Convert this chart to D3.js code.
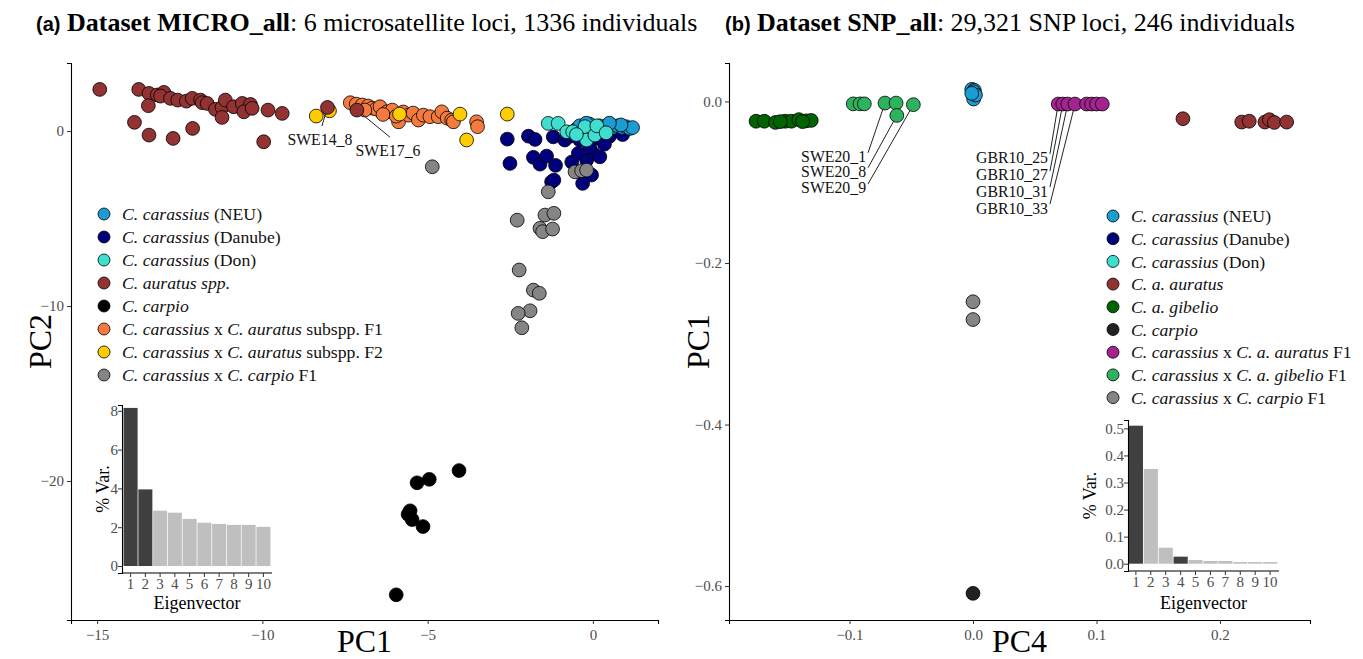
<!DOCTYPE html>
<html>
<head>
<meta charset="utf-8">
<script src="https://cdn.jsdelivr.net/npm/d3@7"></script>
<style>
body { margin: 0; background: #fff; }
text { font-family: "Liberation Serif", "Times New Roman", serif; }
</style>
</head>
<body>
<div id="chart"></div>
<script>
//width and height
var chart_width = 1363;
var chart_height = 659;

// ---- data: panel (a) MICRO_all, PC1 x PC2 ----
var micro_colors = ['#1b9cd2', '#00007f', '#3fdfd0', '#923232', '#000000', '#f47a3e', '#ffcc00', '#858585'];
var micro_legend = [
    [['C. carassius', 1], [' (NEU)', 0]],
    [['C. carassius', 1], [' (Danube)', 0]],
    [['C. carassius', 1], [' (Don)', 0]],
    [['C. auratus spp.', 1]],
    [['C. carpio', 1]],
    [['C. carassius', 1], [' x ', 0], ['C. auratus', 1], [' subspp. F1', 0]],
    [['C. carassius', 1], [' x ', 0], ['C. auratus', 1], [' subspp. F2', 0]],
    [['C. carassius', 1], [' x ', 0], ['C. carpio', 1], [' F1', 0]]
];
var micro_auratus = [[-14.92, 2.38], [-13.74, 2.38], [-13.43, 2.15], [-13.18, 2.06], [-12.98, 2.21], [-13.08, 2.0],
    [-12.78, 1.87], [-12.56, 1.77], [-12.3, 1.71], [-12.12, 1.87], [-11.87, 1.77], [-11.82, 1.62], [-11.67, 1.58],
    [-11.42, 1.24], [-11.22, 1.35], [-11.12, 1.77], [-10.87, 1.39], [-10.61, 1.58], [-10.36, 1.52], [-10.56, 1.1],
    [-10.31, 1.3], [-11.22, 0.78], [-9.83, 1.2], [-9.4, 1.01], [-13.45, 1.45], [-13.87, 0.5], [-13.43, -0.23],
    [-12.7, -0.42], [-12.11, 0.15], [-9.96, -0.61]];
var micro_hybF1 = [[-7.34, 1.62], [-7.16, 1.54], [-6.98, 1.49], [-6.8, 1.43], [-6.68, 1.31], [-6.56, 1.26],
    [-6.44, 1.39], [-6.23, 1.1], [-6.07, 1.2], [-5.88, 0.53], [-5.74, 1.09], [-5.58, 0.91], [-5.44, 1.03],
    [-5.28, 0.63], [-5.13, 0.91], [-4.93, 0.82], [-4.68, 0.82], [-4.57, 1.1], [-4.41, 0.74], [-4.27, 0.63],
    [-4.22, 0.53], [-3.52, 0.53], [-3.49, 0.25], [-6.9, 1.2], [-6.35, 0.95], [-5.95, 0.85]];
var micro_hybF2 = [[-8.37, 0.86], [-7.97, 1.16], [-5.85, 0.97], [-4.02, 0.97], [-3.82, -0.51], [-2.59, 0.97]];
var micro_danube = [[-2.59, -0.46], [-2.51, -1.85], [-1.95, -0.29], [-1.75, -0.48], [-1.8, -1.5], [-1.6, -1.89],
    [-1.4, -1.43], [-1.13, -1.96], [-1.25, -2.9], [-1.18, -2.8], [-1.2, -0.33], [-0.85, -0.51], [-0.64, -1.77],
    [-0.44, -1.27], [-0.19, -1.66], [0.01, -1.27], [0.21, -1.47], [-0.04, -2.51], [-0.31, -2.99], [0.61, -0.04],
    [-0.7, -0.3], [-0.4, -0.5], [-0.2, -0.2], [0.1, -0.4], [0.3, -0.1], [0.5, -0.3], [0.8, 0.0], [0.9, -0.2],
    [-0.5, 0.1], [0.3, 0.2], [-0.1, -0.9], [0.35, -0.75]];
var micro_neu = [[-0.4, 0.3], [-0.1, 0.4], [0.2, 0.3], [0.45, 0.35], [0.6, 0.2], [0.75, 0.3], [0.9, 0.2], [1.0, 0.25],
    [1.12, 0.15], [1.2, 0.2], [0.3, 0.1], [0.0, 0.2], [-0.2, 0.45], [0.85, 0.35], [0.5, 0.45]];
var micro_don = [[-1.35, 0.44], [-1.05, 0.44], [-0.79, -0.04], [-0.61, -0.04], [-0.24, 0.25], [-0.19, -0.51],
    [0.06, -0.23], [0.12, 0.3], [-0.5, -0.2], [0.4, -0.1]];
var micro_carpioF1 = [[-4.86, -2.04], [-0.54, -2.33], [-0.34, -2.27], [-0.19, -2.23], [-1.35, -3.47], [-2.29, -5.09],
    [-1.45, -4.8], [-1.18, -4.7], [-1.6, -5.56], [-1.52, -5.75], [-1.22, -5.6], [-2.23, -7.94], [-1.8, -9.09],
    [-1.62, -9.27], [-1.9, -10.27], [-2.26, -10.42], [-2.15, -11.24]];
var micro_carpio = [[-4.05, -19.4], [-5.32, -20.1], [-4.95, -19.9], [-5.53, -21.7], [-5.59, -21.9], [-5.47, -22.2],
    [-5.14, -22.6], [-5.95, -26.5]];
// labelled individuals: name, point x, point y, label x, label y
var micro_labels = [['SWE14_8', -8.03, 1.35, -8.26, -0.46], ['SWE17_6', -7.14, 1.2, -6.2, -1.09]];
var micro_var = [8.15, 3.95, 2.85, 2.75, 2.43, 2.23, 2.17, 2.12, 2.12, 2.02];
var micro_var_pcs = [1, 2];

// ---- data: panel (b) SNP_all, PC4 x PC1 ----
var snp_colors = ['#1b9cd2', '#00007f', '#3fdfd0', '#923232', '#006400', '#222222', '#a3238f', '#2db35d', '#858585'];
var snp_legend = [
    [['C. carassius', 1], [' (NEU)', 0]],
    [['C. carassius', 1], [' (Danube)', 0]],
    [['C. carassius', 1], [' (Don)', 0]],
    [['C. a. auratus', 1]],
    [['C. a. gibelio', 1]],
    [['C. carpio', 1]],
    [['C. carassius', 1], [' x ', 0], ['C. a. auratus', 1], [' F1', 0]],
    [['C. carassius', 1], [' x ', 0], ['C. a. gibelio', 1], [' F1', 0]],
    [['C. carassius', 1], [' x ', 0], ['C. carpio', 1], [' F1', 0]]
];
var snp_danube = [[0.0, 0.0135]];
var snp_don = [[0.001, 0.012]];
var snp_neu = [[-0.001, 0.015], [0.001, 0.014], [0.0005, 0.012], [0.0005, 0.003], [0.002, 0.008], [-0.001, 0.01]];
var snp_gibelio = [[-0.1757, -0.0245], [-0.169, -0.0245], [-0.16, -0.026], [-0.152, -0.0245], [-0.147, -0.0245],
    [-0.141, -0.0225], [-0.135, -0.024], [-0.131, -0.0235], [-0.156, -0.025], [-0.138, -0.025]];
var snp_hyb_gibelio = [[-0.097, -0.003], [-0.0915, -0.003], [-0.088, -0.003], [-0.0713, -0.002], [-0.0623, -0.002],
    [-0.0617, -0.0173], [-0.0483, -0.004]];
var snp_hyb_auratus = [[0.069, -0.0032], [0.0727, -0.0032], [0.0767, -0.0032], [0.0826, -0.0032], [0.092, -0.0032],
    [0.096, -0.0032], [0.1, -0.0032], [0.1047, -0.0032]];
var snp_auratus = [[0.17, -0.0214], [0.2176, -0.0255], [0.2237, -0.0245], [0.2364, -0.0255], [0.24, -0.0226],
    [0.244, -0.026], [0.254, -0.0255]];
var snp_carpio = [[0.0, -0.609]];
var snp_carpioF1 = [[0.0, -0.248], [0.0, -0.27]];
var snp_labels = [['SWE20_1', -0.0713, -0.002, -0.0866, -0.0685], ['SWE20_8', -0.0617, -0.0173, -0.0866, -0.087],
    ['SWE20_9', -0.0483, -0.004, -0.0866, -0.107], ['GBR10_25', 0.069, -0.0032, 0.0607, -0.0698],
    ['GBR10_27', 0.0727, -0.0032, 0.0607, -0.091], ['GBR10_31', 0.0767, -0.0032, 0.0607, -0.111],
    ['GBR10_33', 0.0826, -0.0032, 0.0607, -0.132]];
var snp_var = [0.51, 0.35, 0.059, 0.026, 0.0135, 0.01, 0.01, 0.006, 0.006, 0.006];
var snp_var_pcs = [1, 4];

var eigen_labels = [1, 2, 3, 4, 5, 6, 7, 8, 9, 10];

var serif = '"Liberation Serif", "Times New Roman", serif';

var svg = d3.select("#chart")
            .append("svg")
            .attr("width", chart_width)
            .attr("height", chart_height)
            .style("font-family", serif);

// titles
var titles = [
    {x: 36, sub: '(a)', name: 'Dataset MICRO_all', rest: ': 6 microsatellite loci, 1336 individuals'},
    {x: 725, sub: '(b)', name: 'Dataset SNP_all', rest: ': 29,321 SNP loci, 246 individuals'}
];
titles.forEach(function(t) {
    var tt = svg.append('text').attr('x', t.x).attr('y', 31).attr('font-size', 26).attr('fill', '#000');
    tt.append('tspan').text(t.sub).style('font-family', '"Liberation Sans", Arial, sans-serif')
        .attr('font-weight', 'bold').attr('font-size', 20);
    tt.append('tspan').text(' ' + t.name).attr('font-weight', 'bold');
    tt.append('tspan').text(t.rest);
});

function style_axis(a, size) {
    a.attr('font-family', serif);
    a.select('.domain').attr('stroke', '#000').attr('stroke-width', 1.1);
    a.selectAll('.tick line').attr('stroke', '#333');
    a.selectAll('.tick text').attr('fill', '#4d4d4d').attr('font-size', size).style('font-family', serif);
}

// scatter panel
function draw_panel(cfg) {
    var x = d3.scaleLinear().domain(cfg.x_domain).range([cfg.left, cfg.right]);
    var y = d3.scaleLinear().domain(cfg.y_domain).range([cfg.bottom, cfg.top]);
    var g = svg.append('g');

    var x_axis = g.append('g').attr('transform', 'translate(0,' + cfg.bottom + ')')
        .call(d3.axisBottom(x).tickValues(cfg.x_ticks).tickFormat(d3.format(cfg.fmt_x)).tickSizeOuter(0).tickSize(4));
    var y_axis = g.append('g').attr('transform', 'translate(' + cfg.left + ',0)')
        .call(d3.axisLeft(y).tickValues(cfg.y_ticks).tickFormat(d3.format(cfg.fmt_y)).tickSizeOuter(0).tickSize(4));
    style_axis(x_axis, 15);
    style_axis(y_axis, 15);
    x_axis.selectAll('.tick text').attr('dy', '0.85em');

    g.append('text').attr('x', (cfg.left + cfg.right) / 2).attr('y', 652).attr('text-anchor', 'middle')
        .attr('font-size', 32).text(cfg.x_title);
    g.append('text').attr('transform', 'translate(' + (cfg.left - 20) + ',' + ((cfg.top + cfg.bottom) / 2) + ') rotate(-90)')
        .attr('text-anchor', 'middle').attr('font-size', 32).text(cfg.y_title);

    // points
    cfg.layers.forEach(function(layer) {
        g.append('g').selectAll('circle')
            .data(layer.data)
            .enter()
            .append('circle')
            .attr('cx', function(d) { return x(d[0]); })
            .attr('cy', function(d) { return y(d[1]); })
            .attr('r', 6.9)
            .attr('fill', layer.color)
            .attr('stroke', '#000')
            .attr('stroke-width', 0.8);
    });

    // labels with segments
    cfg.labels.forEach(function(l) {
        var px = x(l[1]), py = y(l[2]), lx = x(l[3]), ly = y(l[4]);
        var sx, sy;
        if (cfg.label_anchor == 'middle') {
            sx = lx + 2; sy = ly - 13;
        } else {
            sx = lx + 2; sy = ly - 4;
        }
        var dx = px - sx, dy = py - sy, len = Math.sqrt(dx * dx + dy * dy);
        g.append('line').attr('x1', sx).attr('y1', sy)
            .attr('x2', px - dx / len * 6).attr('y2', py - dy / len * 6)
            .attr('stroke', '#222').attr('stroke-width', 1);
        g.append('text').attr('x', lx).attr('y', ly).attr('dy', '0.35em')
            .attr('text-anchor', cfg.label_anchor).attr('font-size', 15.8).attr('fill', '#111').text(l[0]);
    });
    if (cfg.on_top) {
        g.append('g').selectAll('circle').data(cfg.on_top.data).enter().append('circle')
            .attr('cx', function(d) { return x(d[0]); })
            .attr('cy', function(d) { return y(d[1]); })
            .attr('r', 6.9).attr('fill', cfg.on_top.color).attr('stroke', '#000').attr('stroke-width', 0.8);
    }

    // legend
    var lg = g.append('g');
    cfg.legend.forEach(function(parts, i) {
        var ry = cfg.leg_y + i * cfg.leg_step;
        lg.append('circle').attr('cx', cfg.leg_x).attr('cy', ry).attr('r', 6)
            .attr('fill', cfg.leg_colors[i]).attr('stroke', '#000').attr('stroke-width', 0.8);
        var t = lg.append('text').attr('x', cfg.leg_x + 18).attr('y', ry).attr('dy', '0.35em')
            .attr('font-size', 17.7).attr('fill', '#111');
        parts.forEach(function(p) {
            t.append('tspan').text(p[0]).attr('font-style', p[1] ? 'italic' : 'normal');
        });
    });

    draw_inset(cfg.inset);
}

// scree inset
function draw_inset(c) {
    var g = svg.append('g');
    var x = d3.scaleBand().domain(eigen_labels).range([c.bar_left, c.bar_right]).paddingInner(0.05).paddingOuter(0.02);
    var y = d3.scaleLinear().domain(c.y_domain).range([c.bottom, c.top]);

    g.selectAll('rect')
        .data(c.values)
        .enter()
        .append('rect')
        .attr('x', function(d, i) { return x(eigen_labels[i]); })
        .attr('width', x.bandwidth())
        .attr('y', function(d) { return y(d); })
        .attr('height', function(d) { return y(0) - y(d); })
        .attr('fill', function(d, i) { return c.dark.indexOf(i + 1) >= 0 ? '#404040' : '#bfbfbf'; });

    var xa = g.append('g').attr('transform', 'translate(0,' + c.bottom + ')')
        .call(d3.axisBottom(x).tickSizeOuter(0).tickSize(4));
    xa.select('.domain').attr('d', 'M' + c.left + ',0H' + c.right);
    var ya = g.append('g').attr('transform', 'translate(' + c.left + ',0)')
        .call(d3.axisLeft(y).tickValues(c.y_ticks).tickFormat(d3.format(c.fmt)).tickSizeOuter(0).tickSize(4));
    style_axis(xa, 15);
    style_axis(ya, 15);
    ya.selectAll('.tick text').attr('x', -4);
    xa.selectAll('.tick text').attr('y', 5);

    g.append('text').attr('x', (c.left + c.right) / 2).attr('y', 609).attr('text-anchor', 'middle')
        .attr('font-size', 18).text('Eigenvector');
    g.append('text').attr('transform', 'translate(' + c.ylab_x + ',' + ((c.top + c.bottom) / 2) + ') rotate(-90)')
        .attr('text-anchor', 'middle').attr('font-size', 18).text('% Var.');
}

draw_panel({
    left: 71, right: 658, top: 63, bottom: 620,
    x_domain: [-15.79, 1.97], y_domain: [-27.94, 3.89],
    x_ticks: [-15, -10, -5, 0], y_ticks: [-20, -10, 0], fmt_x: 'd', fmt_y: 'd',
    x_title: 'PC1', y_title: 'PC2',
    layers: [
        {data: micro_auratus, color: micro_colors[3]},
        {data: micro_hybF1, color: micro_colors[5]},
        {data: micro_hybF2, color: micro_colors[6]},
        {data: micro_danube, color: micro_colors[1]},
        {data: micro_neu, color: micro_colors[0]},
        {data: micro_don, color: micro_colors[2]},
        {data: micro_carpioF1, color: micro_colors[7]},
        {data: micro_carpio, color: micro_colors[4]}
    ],
    labels: micro_labels, label_anchor: 'middle',
    on_top: {data: micro_labels.map(function(l) { return [l[1], l[2]]; }), color: micro_colors[3]},
    legend: micro_legend, leg_colors: micro_colors, leg_x: 104, leg_y: 214, leg_step: 23,
    inset: {left: 122, right: 272, top: 405, bottom: 573, bar_left: 123.3, bar_right: 270.7, ylab_x: 109,
        y_domain: [-0.36, 8.3], y_ticks: [0, 2, 4, 6, 8], fmt: 'd', values: micro_var, dark: micro_var_pcs}
});

draw_panel({
    left: 729, right: 1310, top: 63, bottom: 620,
    x_domain: [-0.1976, 0.2729], y_domain: [-0.642, 0.0476],
    x_ticks: [-0.1, 0, 0.1, 0.2], y_ticks: [-0.6, -0.4, -0.2, 0], fmt_x: '.1f', fmt_y: '.1f',
    x_title: 'PC4', y_title: 'PC1',
    layers: [
        {data: snp_danube, color: snp_colors[1]},
        {data: snp_don, color: snp_colors[2]},
        {data: snp_neu, color: snp_colors[0]},
        {data: snp_auratus, color: snp_colors[3]},
        {data: snp_gibelio, color: snp_colors[4]},
        {data: snp_carpio, color: snp_colors[5]},
        {data: snp_hyb_auratus, color: snp_colors[6]},
        {data: snp_hyb_gibelio, color: snp_colors[7]},
        {data: snp_carpioF1, color: snp_colors[8]}
    ],
    labels: snp_labels, label_anchor: 'end',
    legend: snp_legend, leg_colors: snp_colors, leg_x: 1113, leg_y: 216, leg_step: 22.7,
    inset: {left: 1128, right: 1279, top: 420, bottom: 571, bar_left: 1128.5, bar_right: 1277.5, ylab_x: 1096,
        y_domain: [-0.027, 0.531], y_ticks: [0, 0.1, 0.2, 0.3, 0.4, 0.5], fmt: '.1f', values: snp_var, dark: snp_var_pcs}
});
</script>
</body>
</html>
